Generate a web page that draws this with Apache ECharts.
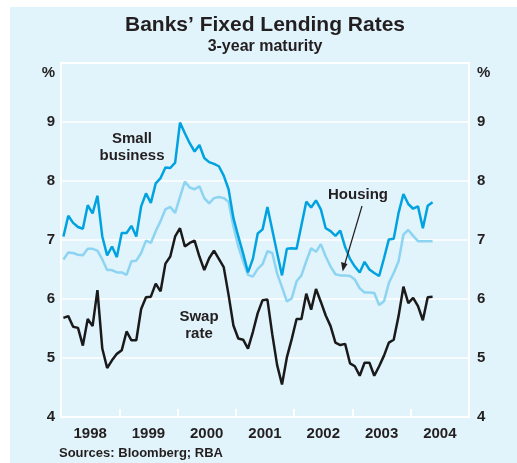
<!DOCTYPE html>
<html>
<head>
<meta charset="utf-8">
<script src="https://cdn.jsdelivr.net/npm/echarts@6/dist/echarts.min.js"></script>
<style>
html,body{margin:0;padding:0;background:#ffffff;}
#chart{width:517px;height:463px;}
</style>
</head>
<body>
<div id="chart"></div>
<script>
// Monthly data, Jan 1998 – May 2004
const years = ['1998','1999','2000','2001','2002','2003','2004'];
const yTicks = [4,5,6,7,8,9];
const smallBusiness = [
7.06,7.41,7.29,7.22,7.19,7.59,7.45,7.75,7.06,6.74,6.89,6.71,
7.12,7.12,7.24,7.06,7.57,7.79,7.63,7.96,8.05,8.23,8.22,8.31,
8.99,8.81,8.64,8.50,8.61,8.39,8.32,8.29,8.25,8.09,7.86,7.37,
7.06,6.77,6.45,6.68,7.11,7.18,7.56,7.17,6.78,6.40,6.85,6.86,
6.85,7.25,7.65,7.55,7.67,7.52,7.20,7.15,7.07,7.16,6.88,6.68,
6.55,6.45,6.63,6.50,6.44,6.39,6.69,7.01,7.02,7.46,7.78,7.61,
7.53,7.57,7.20,7.58,7.64];
const housing = [
6.67,6.79,6.78,6.75,6.74,6.85,6.85,6.82,6.67,6.49,6.49,6.45,
6.45,6.41,6.64,6.65,6.78,6.99,6.95,7.15,7.32,7.52,7.56,7.46,
7.73,7.99,7.89,7.86,7.91,7.71,7.62,7.71,7.73,7.71,7.65,7.23,
6.89,6.64,6.41,6.38,6.51,6.59,6.81,6.78,6.43,6.20,5.96,6.01,
6.30,6.40,6.64,6.86,6.80,6.93,6.72,6.55,6.42,6.40,6.40,6.39,
6.33,6.18,6.11,6.11,6.10,5.90,5.96,6.27,6.44,6.64,7.09,7.17,
7.07,6.98,6.98,6.98,6.98];
const swapRate = [
5.68,5.71,5.53,5.51,5.21,5.66,5.54,6.15,5.16,4.83,4.96,5.07,
5.13,5.45,5.30,5.30,5.83,6.03,6.04,6.26,6.13,6.60,6.72,7.06,
7.20,6.89,6.95,6.99,6.72,6.49,6.69,6.82,6.68,6.54,6.07,5.55,
5.33,5.31,5.16,5.44,5.76,5.98,5.99,5.40,4.88,4.55,5.01,5.32,
5.66,5.66,6.09,5.82,6.17,5.95,5.72,5.54,5.26,5.22,5.24,4.91,
4.86,4.70,4.92,4.92,4.70,4.86,5.04,5.26,5.31,5.71,6.21,5.93,
6.02,5.88,5.64,6.03,6.04];

function toPairs(arr){ return arr.map((v,i)=>[i+0.5, v]); }

const FONT = '"Liberation Sans", Arial, Helvetica, sans-serif';
const TXT = '#231f20';

const chart = echarts.init(document.getElementById('chart'), null, {renderer:'canvas'});

const yAxisCommon = {
  type:'value', min:4, max:10, interval:1,
  axisLine:{show:false}, axisTick:{show:false},
  splitLine:{show:true, lineStyle:{color:'#ffffff', width:1.5}},
  axisLabel:{color:TXT, fontFamily:FONT, fontWeight:'bold', fontSize:15,
    formatter:(v)=> (v===10 ? '' : String(v))}
};

chart.setOption({
  animation:false,
  backgroundColor:'#ffffff',
  graphic:[
    {type:'rect', z:-10, silent:true, shape:{x:10,y:7,width:507,height:456}, style:{fill:'#e1f3fb'}},
    {type:'text', z:10, style:{text:'Banks’ Fixed Lending Rates', x:265, y:25, textAlign:'center', textVerticalAlign:'middle', font:'bold 21px '+FONT, fill:TXT}},
    {type:'text', z:10, style:{text:'3-year maturity', x:265, y:47, textAlign:'center', textVerticalAlign:'middle', font:'bold 16px '+FONT, fill:TXT}},
    {type:'text', z:10, style:{text:'%', x:55, y:73, textAlign:'right', textVerticalAlign:'middle', font:'bold 15px '+FONT, fill:TXT}},
    {type:'text', z:10, style:{text:'%', x:477, y:73, textAlign:'left', textVerticalAlign:'middle', font:'bold 15px '+FONT, fill:TXT}},
    {type:'text', z:10, style:{text:'Sources: Bloomberg; RBA', x:59, y:453, textAlign:'left', textVerticalAlign:'middle', font:'bold 13px '+FONT, fill:TXT}},
    {type:'text', z:10, style:{text:'Small\nbusiness', x:132, y:147, textAlign:'center', textVerticalAlign:'middle', font:'bold 15px '+FONT, fill:TXT, lineHeight:17}},
    {type:'text', z:10, style:{text:'Swap\nrate', x:199, y:325, textAlign:'center', textVerticalAlign:'middle', font:'bold 15px '+FONT, fill:TXT, lineHeight:17}},
    {type:'text', z:10, style:{text:'Housing', x:358, y:195, textAlign:'center', textVerticalAlign:'middle', font:'bold 15px '+FONT, fill:TXT}},
    {type:'line', z:10, shape:{x1:362,y1:206,x2:344.5,y2:265}, style:{stroke:TXT, lineWidth:1.2}},
    {type:'polygon', z:10, shape:{points:[[342.7,271.5],[341,262],[347.5,264]]}, style:{fill:TXT}}
  ],
  grid:{left:61, right:48, top:63, bottom:46, show:true, borderColor:'#ffffff', borderWidth:2, backgroundColor:'transparent'},
  xAxis:[
    {type:'value', min:0, max:84, interval:12,
     axisLine:{show:false}, splitLine:{show:false},
     axisTick:{show:true, inside:true, length:8, lineStyle:{color:'#ffffff', width:2}},
     axisLabel:{show:false}},
    {type:'category', data:years, position:'bottom', boundaryGap:true,
     axisLine:{show:false}, axisTick:{show:false}, splitLine:{show:false},
     axisLabel:{color:TXT, fontFamily:FONT, fontWeight:'bold', fontSize:15, margin:9}}
  ],
  yAxis:[
    Object.assign({}, yAxisCommon, {position:'left', axisLabel:Object.assign({}, yAxisCommon.axisLabel, {margin:6})}),
    Object.assign({}, yAxisCommon, {position:'right', splitLine:{show:false}, axisLabel:Object.assign({}, yAxisCommon.axisLabel, {margin:8})})
  ],
  series:[
    {name:'Housing', type:'line', xAxisIndex:0, yAxisIndex:0, data:toPairs(housing), showSymbol:false, lineStyle:{color:'#8dd4f3', width:2.5}, z:2},
    {name:'Small business', type:'line', xAxisIndex:0, yAxisIndex:0, data:toPairs(smallBusiness), showSymbol:false, lineStyle:{color:'#00a3e0', width:2.5}, z:3},
    {name:'Swap rate', type:'line', xAxisIndex:0, yAxisIndex:0, data:toPairs(swapRate), showSymbol:false, lineStyle:{color:'#1a1a1a', width:2.5}, z:4}
  ]
});
</script>
</body>
</html>
